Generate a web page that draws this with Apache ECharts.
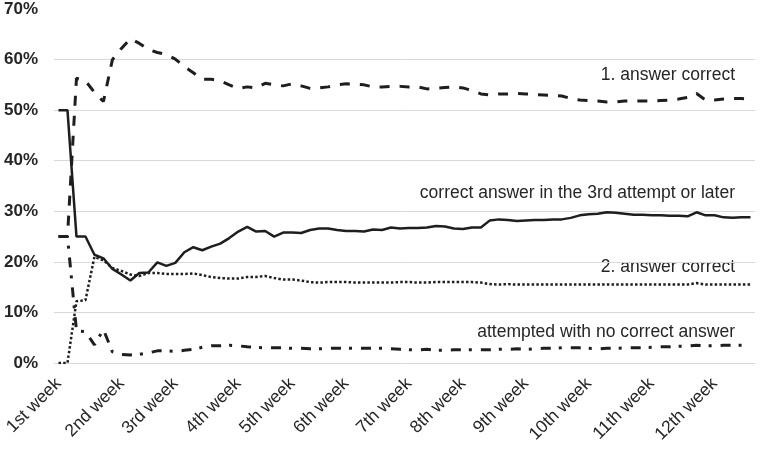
<!DOCTYPE html>
<html>
<head>
<meta charset="utf-8">
<script src="https://cdn.jsdelivr.net/npm/echarts@6/dist/echarts.min.js"></script>
<style>html,body{margin:0;padding:0;background:#fff}#c{width:762px;height:450px}</style>
</head>
<body>
<div id="c"></div>
<script>
// ---- data ----
const weekLabels = ['1st week','2nd week','3rd week','4th week','5th week','6th week','7th week','8th week','9th week','10th week','11th week','12th week'];
const weekStartIndex = [0,7,13,20,26,32,39,45,52,59,66,73];
const pointCount = 78;
const yTicks = [0,10,20,30,40,50,60,70];

const firstCorrect = [25,25,56.3,55.8,53.5,51.7,60.0,62.2,64.1,63.2,62.0,61.4,61.0,60.1,58.6,57.4,56.1,56.1,55.8,55.0,54.3,54.6,54.4,55.3,55.0,54.8,55.2,54.8,54.3,54.4,54.6,55.0,55.2,55.1,55.0,54.6,54.6,54.7,54.7,54.6,54.6,54.2,54.3,54.5,54.6,54.4,53.9,53.2,53.0,53.2,53.2,53.3,53.2,53.1,53.0,52.9,52.8,52.3,52.0,51.9,51.8,51.6,51.6,51.8,51.8,51.8,51.8,51.9,52.0,52.2,52.5,53.3,52.0,52.0,52.2,52.3,52.3,52.2];
const thirdOrLater = [50,50,25,25,21.4,20.7,18.6,17.5,16.3,17.8,17.9,19.9,19.2,19.8,21.9,22.9,22.3,23.0,23.6,24.7,26.0,26.9,26.0,26.1,25.0,25.8,25.8,25.7,26.3,26.6,26.6,26.3,26.1,26.1,26.0,26.4,26.3,26.8,26.6,26.7,26.7,26.8,27.1,27.0,26.6,26.5,26.8,26.8,28.2,28.4,28.3,28.1,28.2,28.3,28.3,28.4,28.4,28.7,29.2,29.4,29.5,29.8,29.7,29.5,29.3,29.3,29.2,29.2,29.1,29.1,29.0,29.8,29.2,29.2,28.8,28.7,28.8,28.8];
const secondCorrect = [0,0,12.2,12.4,21.0,20.3,18.8,18.2,17.5,17.2,17.8,17.8,17.6,17.6,17.6,17.7,17.4,17.0,16.8,16.7,16.7,17.0,17.0,17.2,16.8,16.5,16.5,16.3,16.0,15.9,16.0,16.0,16.0,15.9,15.9,15.9,15.9,15.9,16.0,16.0,15.9,15.9,16.0,16.0,16.0,16.0,16.0,15.9,15.6,15.5,15.6,15.5,15.5,15.5,15.5,15.5,15.5,15.5,15.5,15.5,15.5,15.5,15.5,15.5,15.5,15.5,15.5,15.5,15.5,15.5,15.5,15.8,15.5,15.5,15.5,15.5,15.5,15.5];
const noCorrect = [25,25,6.4,6.2,3.6,6.6,2.2,1.7,1.6,1.7,2.0,2.4,2.4,2.3,2.5,2.7,3.1,3.4,3.4,3.5,3.4,3.2,3.1,3.0,3.0,3.0,2.9,2.9,2.8,2.8,2.9,2.9,2.9,2.9,2.9,2.9,2.9,2.8,2.7,2.6,2.6,2.7,2.5,2.5,2.6,2.6,2.6,2.6,2.6,2.7,2.7,2.8,2.7,2.8,2.9,2.9,3.0,3.0,3.0,2.9,2.8,2.9,2.9,3.0,3.0,3.0,3.1,3.2,3.2,3.3,3.4,3.5,3.4,3.4,3.5,3.5,3.5,3.5];

const seriesNames = ['1. answer correct','correct answer in the 3rd attempt or later','2. answer correct','attempted with no correct answer'];

// ---- build ----
const categories = [];
for (let i = 0; i < pointCount; i++) categories.push('');
weekStartIndex.forEach((idx, k) => { categories[idx] = weekLabels[k]; });

const ink = '#1e1e1e';
const font = '"Liberation Sans", Arial, sans-serif';

const chart = echarts.init(document.getElementById('c'), null, {renderer: 'canvas'});
chart.setOption({
  animation: false,
  backgroundColor: '#ffffff',
  grid: {left: 54, right: 7, top: 9, bottom: 87, containLabel: false},
  xAxis: {
    type: 'category',
    data: categories,
    boundaryGap: true,
    axisLine: {show: true, lineStyle: {color: '#d9d9d9', width: 1}},
    axisTick: {show: false},
    axisLabel: {interval: 0, rotate: 45, margin: 18, fontSize: 17.5, color: '#262626', fontFamily: font},
    splitLine: {show: false}
  },
  yAxis: {
    type: 'value',
    min: yTicks[0],
    max: yTicks[yTicks.length - 1],
    interval: yTicks[1] - yTicks[0],
    axisLine: {show: false},
    axisTick: {show: false},
    axisLabel: {formatter: '{value}%', fontSize: 17, fontWeight: 'bold', color: '#262626', fontFamily: font, margin: 16, padding: [5, 0, 0, 0]},
    splitLine: {show: true, showMaxLine: false, lineStyle: {color: '#d9d9d9', width: 1}}
  },
  series: [
    {name: seriesNames[0], type: 'line', data: firstCorrect, symbol: 'none', lineStyle: {color: ink, width: 3, type: [10, 10], cap: 'butt'}},
    {name: seriesNames[1], type: 'line', data: thirdOrLater, symbol: 'none', lineStyle: {color: ink, width: 2.5, type: 'solid'}},
    {name: seriesNames[2], type: 'line', data: secondCorrect, symbol: 'none', lineStyle: {color: ink, width: 2.5, type: [2.5, 2.2], cap: 'butt'}},
    {name: seriesNames[3], type: 'line', data: noCorrect, symbol: 'none', lineStyle: {color: ink, width: 3, type: [10, 8, 3, 9], cap: 'butt'}}
  ],
  graphic: [
    {type: 'text', right: 27, top: 66, style: {text: seriesNames[0], font: '17.5px ' + font, fill: '#262626'}},
    {type: 'text', right: 27, top: 184, style: {text: seriesNames[1], font: '17.5px ' + font, fill: '#262626'}},
    {type: 'text', right: 27, top: 258, style: {text: seriesNames[2], font: '17.5px ' + font, fill: '#262626'}},
    {type: 'text', right: 27, top: 323, style: {text: seriesNames[3], font: '17.5px ' + font, fill: '#262626'}}
  ]
});
</script>
</body>
</html>
